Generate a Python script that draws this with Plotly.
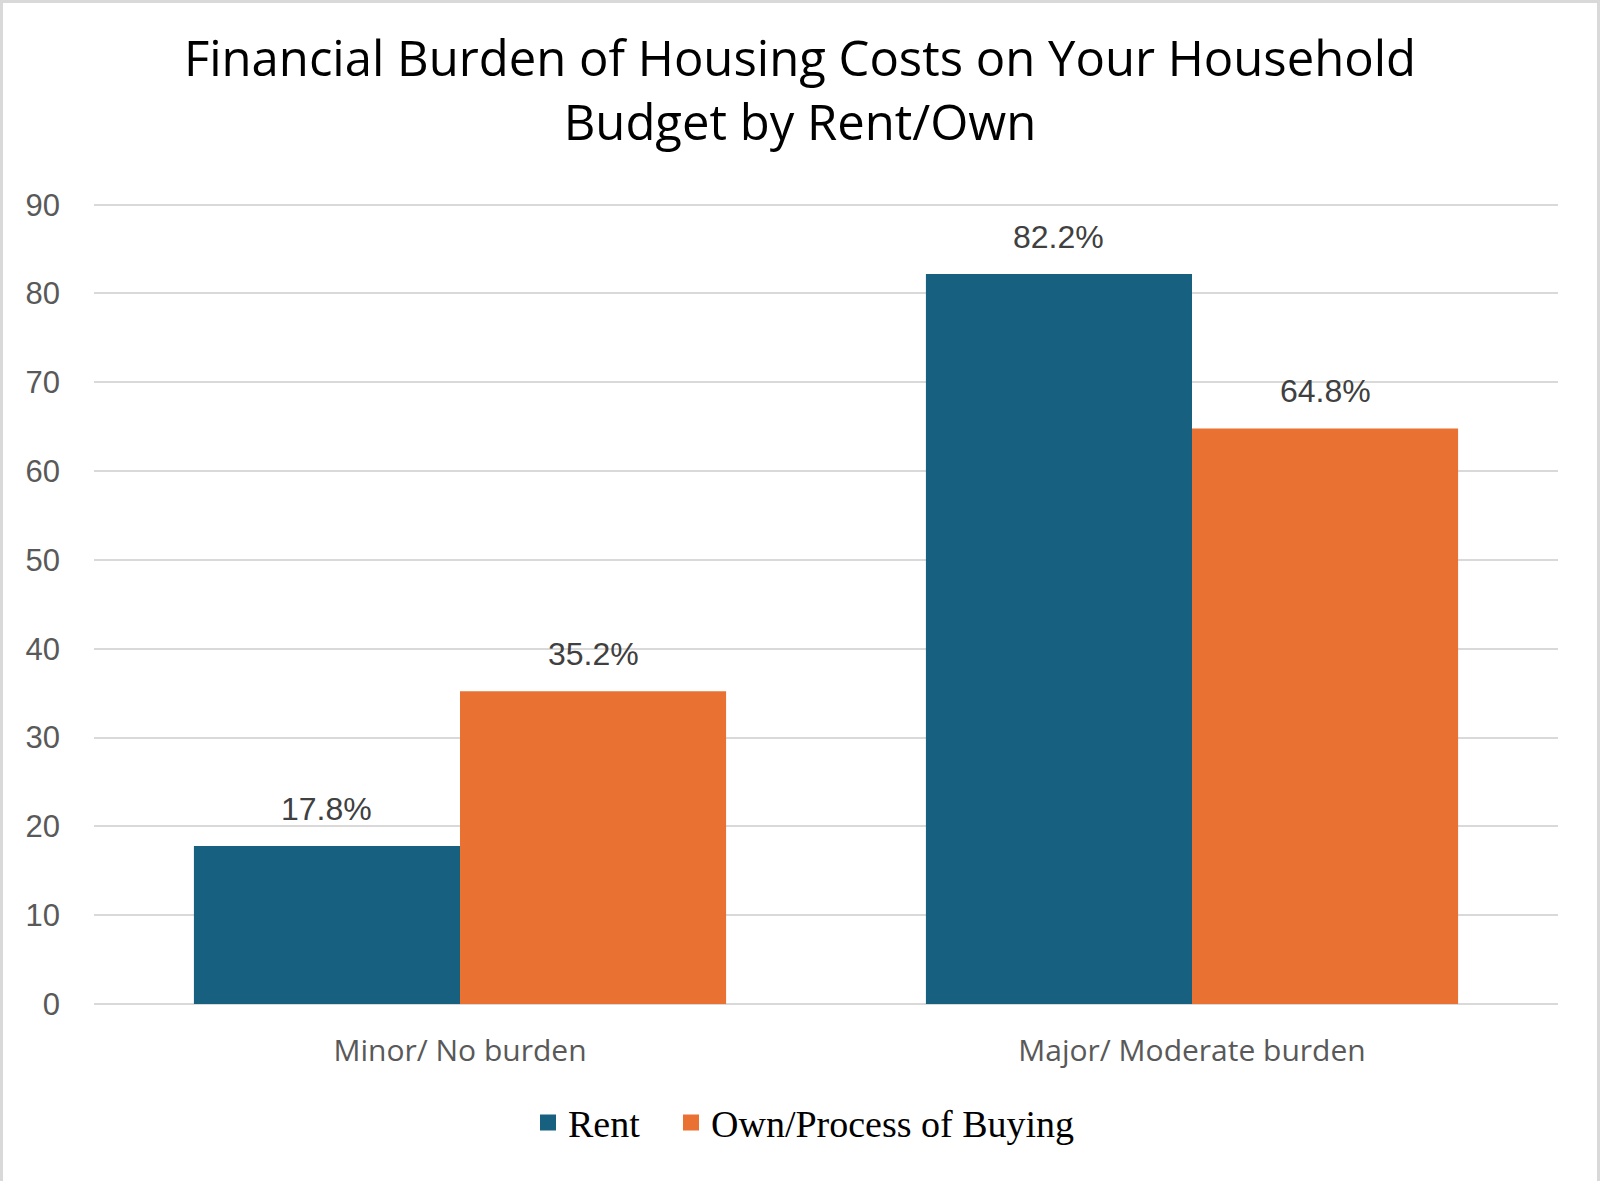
import plotly.graph_objects as go

categories = ["Minor/ No burden", "Major/ Moderate burden"]
series_names = ["Rent", "Own/Process of Buying"]
rent_values = [17.8, 82.2]
own_values = [35.2, 64.8]
y_ticks = [0, 10, 20, 30, 40, 50, 60, 70, 80, 90]
colors = ["#17607F", "#E97132"]

W, H = 1600, 1181
ml, mr, mt, mb = 94, 42, 202, 177
bargap = 0.273

fig = go.Figure()
for name, vals, col in zip(series_names, [rent_values, own_values], colors):
    fig.add_trace(go.Bar(x=categories, y=vals, name=name, marker_color=col,
                         marker_line_width=0, showlegend=False))
# legend entries with larger square symbols (one legend box per series)
legend_ids = ["legend", "legend2"]
for name, col, lid in zip(series_names, colors, legend_ids):
    fig.add_trace(go.Scatter(x=[None], y=[None], mode="markers", name=name, legend=lid,
                             marker=dict(symbol="square", size=18, color=col)))

# data labels above bars
bw = (1 - bargap) / 2
for i, vals in enumerate([rent_values, own_values]):
    for j, v in enumerate(vals):
        fig.add_annotation(x=j + (i - 0.5) * bw, y=v, xref="x", yref="y",
                           text=f"{v:.1f}%", showarrow=False,
                           yanchor="middle", yshift=37,
                           font=dict(family="Liberation Sans", size=32, color="#404040"))

pw = W - ml - mr
ph = H - mt - mb
# outer border
fig.add_shape(type="rect", xref="paper", yref="paper",
              x0=(1.5 - ml) / pw, x1=(W - 1.5 - ml) / pw,
              y0=(mb - (H - 1.5)) / ph, y1=1 + (mt - 1.5) / ph,
              line=dict(color="#D9D9D9", width=3), fillcolor="rgba(0,0,0,0)", layer="below")

legend_style = dict(orientation="h", xanchor="left", y=-0.148, yanchor="middle",
                    font=dict(family="Liberation Serif", size=38, color="#000000"),
                    itemclick=False, itemdoubleclick=False)

fig.update_layout(
    width=W, height=H,
    margin=dict(l=ml, r=mr, t=mt, b=mb, autoexpand=False),
    paper_bgcolor="white", plot_bgcolor="white",
    barmode="group", bargap=bargap, bargroupgap=0,
    title=dict(text="Financial Burden of Housing Costs on Your Household<br>Budget by Rent/Own",
               x=0.5, xanchor="center", xref="container", y=1 - 76 / H, yanchor="middle", yref="container",
               font=dict(family="Open Sans", size=49, color="#000000")),
    font=dict(family="Liberation Sans", color="#595959"),
    legend=dict(x=(528 - ml) / pw, **legend_style),
    legend2=dict(x=(671 - ml) / pw, **legend_style),
    showlegend=True,
)
fig.update_yaxes(range=[0, 90.3], tickvals=y_ticks, ticktext=[str(t) for t in y_ticks],
                 showgrid=True, gridcolor="#D9D9D9", gridwidth=2,
                 zeroline=True, zerolinecolor="#D9D9D9", zerolinewidth=2,
                 showline=False, ticks="", ticklabelstandoff=33, automargin=False,
                 tickfont=dict(family="Liberation Sans", size=31, color="#595959"))
fig.update_xaxes(showgrid=False, showline=False, ticks="", ticklabelstandoff=26,
                 tickangle=0, automargin=False,
                 tickfont=dict(family="Open Sans", size=30, color="#595959"))

fig.write_html("out.html", config={"displayModeBar": False},
               post_script="document.body.style.margin='0';")
